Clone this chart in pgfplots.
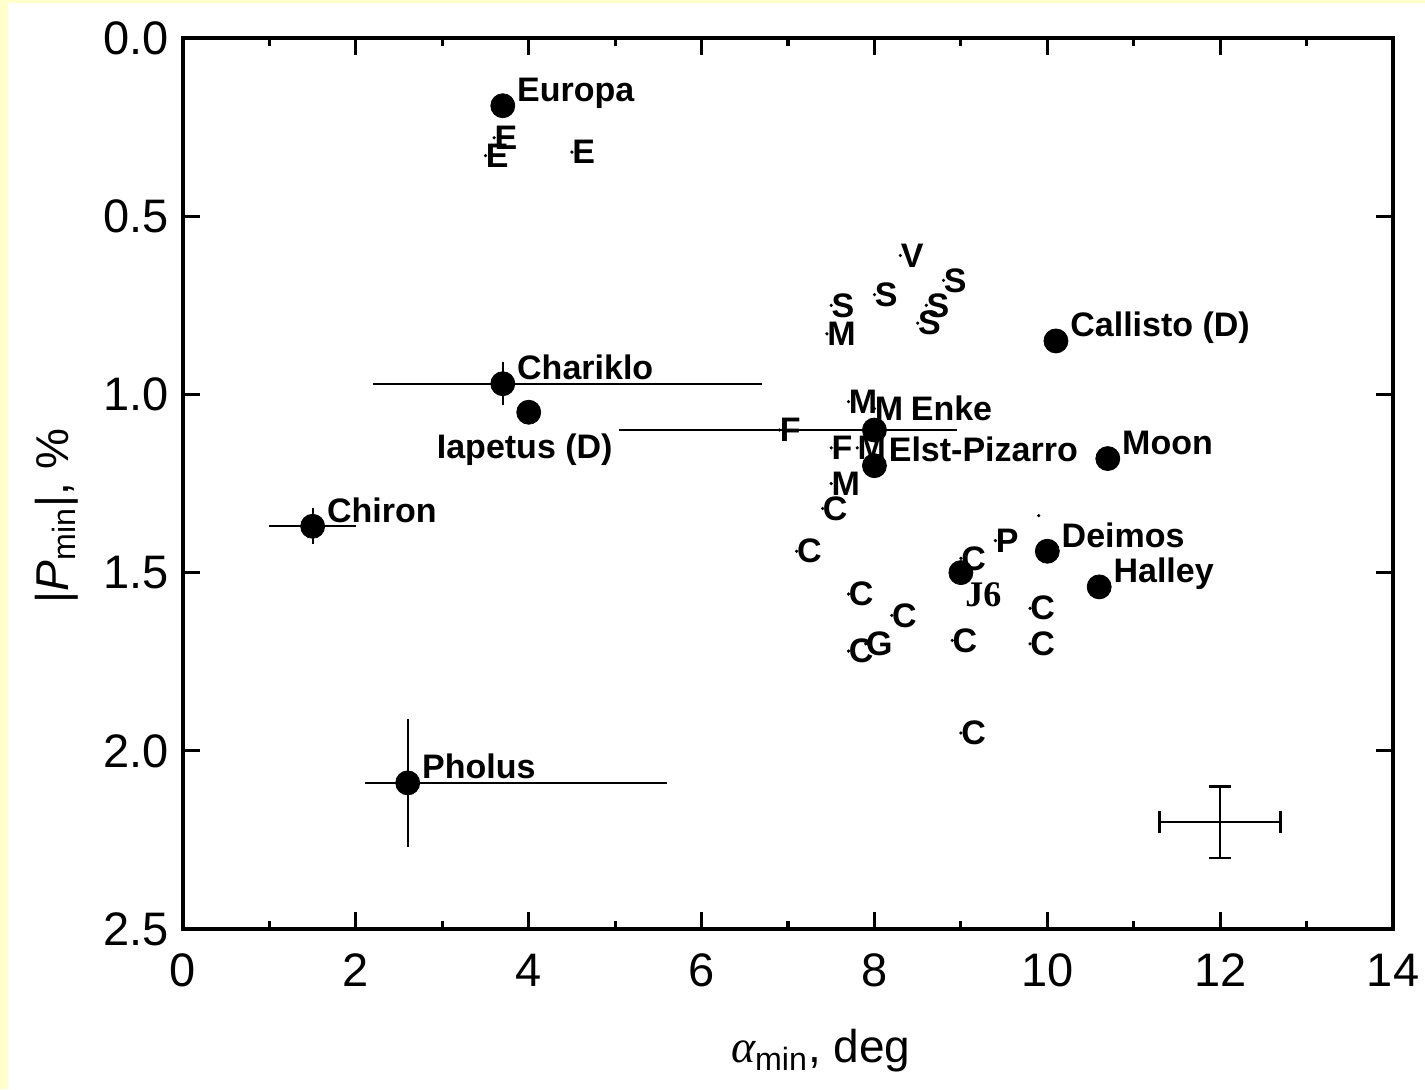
\documentclass[border=0pt]{standalone}
\usepackage{fontspec}
\setmainfont{Liberation Sans}
\newfontfamily\timesfont{Liberation Serif}
\usepackage{pgfplots}
\pgfplotsset{compat=1.18}
\usepackage{pgfplotstable}
\usetikzlibrary{backgrounds}
\definecolor{slidebg}{RGB}{255,255,204}

\newcommand{\namefont}{\fontsize{17}{20}\selectfont\bfseries}

% taxonomic classes: alpha_min, |P_min| and class letter
\pgfplotstableread{
x     y     cls
3.5   0.33  E
3.6   0.28  E
4.5   0.32  E
8.3   0.61  V
7.5   0.75  S
8.0   0.72  S
8.8   0.68  S
8.5   0.80  S
8.6   0.75  S
7.45  0.83  M
7.7   1.02  M
8.0   1.04  M
6.9   1.10  F
7.5   1.15  F
7.8   1.15  M
7.5   1.25  M
7.4   1.32  C
7.1   1.44  C
9.4   1.41  P
9.0   1.46  C
7.7   1.56  C
9.8   1.60  C
8.2   1.62  C
8.9   1.69  C
9.8   1.70  C
7.7   1.72  C
7.9   1.70  G
9.0   1.95  C
}\classes

% individual bodies labelled to the right of the point
\pgfplotstableread{
x     y     name
3.7   0.19  Europa
3.7   0.97  Chariklo
1.5   1.37  Chiron
2.6   2.09  Pholus
8.0   1.20  Elst-Pizarro
10.1  0.85  {Callisto (D)}
10.7  1.18  Moon
10.0  1.44  Deimos
10.6  1.54  Halley
}\named

\begin{document}
\begin{tikzpicture}
\begin{axis}[
  scale only axis,
  width=605pt, height=445.5pt,
  xmin=0, xmax=14, ymin=0, ymax=2.5,
  y dir=reverse,
  clip=false,
  xtick={0,2,...,14},
  minor x tick num=1,
  ytick={0,0.5,1.0,1.5,2.0,2.5},
  yticklabel style={/pgf/number format/fixed, /pgf/number format/fixed zerofill,
    /pgf/number format/precision=1, xshift=-3.5pt},
  xticklabel style={yshift=-9pt},
  /pgf/number format/assume math mode=true,
  tick align=inside,
  major tick length=8.5pt, minor tick length=4pt,
  every tick/.style={black, line width=1.6pt},
  axis line style={line width=1.6pt},
  tick label style={font=\fontsize{23.5}{27}\selectfont},
  label style={font=\fontsize{23}{27}\selectfont},
  xlabel={{\timesfont\itshape α}\textsubscript{min}, deg},
  ylabel={|\textit{P}\textsubscript{min}|, \%},
  xlabel style={at={(axis description cs:0.527,-0.150)}, anchor=base},
  ylabel style={at={(axis description cs:-0.095,0.4635)}, anchor=base},
]
\coordinate (bgSW) at (axis cs:-2.1173,2.9489);
\coordinate (bgNE) at (axis cs:14.3700,-0.10662);
\coordinate (wSW) at (axis cs:-2.0248,2.9489);
\coordinate (wNE) at (axis cs:14.3700,-0.0982);

% error bars of the individual bodies
\addplot[draw=none, mark=none,
  error bars/.cd, x dir=both, x explicit, y dir=both, y explicit,
  error mark=none, error bar style={draw=black, line width=1pt}]
coordinates {
  (3.7,0.97) += (3.0,0.06) -= (1.5,0.06)
  (1.5,1.37) +- (0.5,0.05)
  (2.6,2.09) += (3.0,0.18) -= (0.5,0.18)
  (8.0,1.10) += (0.95,0) -= (2.95,0)
};

% typical uncertainty
\addplot[draw=none, mark=none,
  error bars/.cd, x dir=both, x explicit, y dir=both, y explicit,
  error bar style={draw=black, line width=1.2pt},
  error mark options={rotate=90, mark size=5.5pt, line width=1.2pt, draw=black}]
coordinates {(12,2.2) +- (0.7,0.1)};

% asteroid classes
\addplot[only marks, mark=*, mark size=0.6pt, black,
  point meta=explicit symbolic, nodes near coords,
  nodes near coords align=horizontal,
  nodes near coords style={anchor=west, inner sep=0pt, font=\namefont}]
  table[meta=cls] {\classes};
\addplot[only marks, mark=*, mark size=0.6pt, black] coordinates {(9.9,1.34)};

% named bodies
\addplot[only marks, mark=*, mark size=6pt, black,
  point meta=explicit symbolic, nodes near coords,
  nodes near coords align=horizontal,
  nodes near coords style={anchor=base west, inner sep=0pt, xshift=7pt, yshift=2pt, font=\namefont}]
  table[meta=name] {\named};
\addplot[only marks, mark=*, mark size=6pt, black,
  nodes near coords={Iapetus (D)},
  nodes near coords style={anchor=base, inner sep=0pt, xshift=-2pt, yshift=-23pt, font=\namefont}]
  coordinates {(4.0,1.05)};
\addplot[only marks, mark=*, mark size=6pt, black,
  nodes near coords={Enke},
  nodes near coords align=horizontal,
  nodes near coords style={anchor=base west, inner sep=0pt, xshift=18pt, yshift=5pt, font=\namefont}]
  coordinates {(8.0,1.10)};
\addplot[only marks, mark=*, mark size=6pt, black,
  nodes near coords={J6},
  nodes near coords align=horizontal,
  nodes near coords style={anchor=base west, inner sep=0pt, xshift=2pt, yshift=-17pt,
    font=\fontsize{18}{20}\selectfont\timesfont\bfseries}]
  coordinates {(9.0,1.50)};
\end{axis}
\begin{pgfonlayer}{background}
  \fill[slidebg] (bgSW) rectangle (bgNE);
  \fill[white] (wSW) rectangle (wNE);
\end{pgfonlayer}
\pgfresetboundingbox
\path[use as bounding box] (bgSW) rectangle (bgNE);
\end{tikzpicture}
\end{document}
